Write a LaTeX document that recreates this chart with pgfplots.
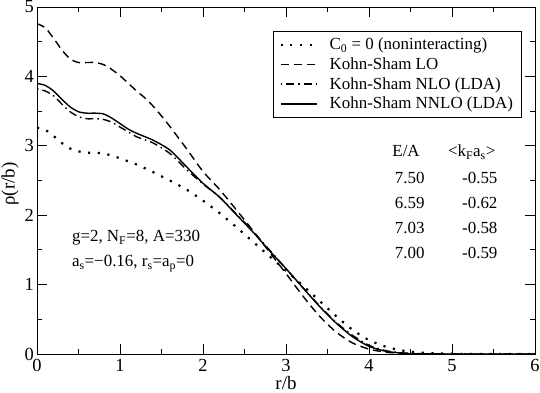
\documentclass[border=0pt]{standalone}
\usepackage{fontspec}
\setmainfont{Liberation Serif}
\usepackage{pgfplots}
\pgfplotsset{compat=1.18}
\newcommand{\fs}{\fontsize{17}{17}\selectfont}
\newcommand{\ft}{\fontsize{18.5}{18.5}\selectfont}
\newcommand{\fl}{\fontsize{19}{19}\selectfont}
\begin{document}
\begin{tikzpicture}
\begin{axis}[
  at={(0,0)}, anchor=south west,
  scale only axis, width=498bp, height=347bp,
  xmin=0, xmax=6, ymin=0, ymax=5,
  xtick={0,1,2,3,4,5,6}, ytick={0,1,2,3,4,5},
  minor x tick num=1, minor y tick num=1,
  tick align=inside, major tick length=10bp, minor tick length=5bp,
  tick style={black, line width=0.8bp},
  axis line style={line width=0.8bp},
  /pgf/number format/assume math mode=true,
  ticklabel style={font=\ft},
  yticklabel style={inner sep=1bp, xshift=-2bp},
  xticklabel style={inner sep=1bp, yshift=-4bp},
  xlabel={r/b}, ylabel={ρ(r/b)},
  label style={font=\fl, inner sep=0pt},
  xlabel style={at={(axis description cs:0.5,-0.101)}, anchor=base},
  ylabel style={at={(axis description cs:-0.045,0.49)}, anchor=base},
  legend style={at={(rel axis cs:0.474,0.932)}, anchor=north west, draw=black, line width=0.8bp,
    font=\fs, inner xsep=6bp, inner ysep=5bp, row sep=2.5bp, cells={anchor=west}},
  legend cell align=left,
  legend image code/.code={\draw[#1] (-1bp,0bp) -- (35bp,0bp); \path (0bp,0bp) (45bp,0bp);},
]
% C0 = 0 (noninteracting)
\addplot[black, line width=2.2bp, dash pattern=on 2.2bp off 7.5bp, smooth, tension=0.4] coordinates {
(0,3.26)(0.1,3.23)(0.2,3.14)(0.3,3.04)(0.4,2.96)(0.5,2.92)(0.6,2.90)(0.7,2.90)(0.8,2.89)(0.9,2.86)(1.0,2.82)
(1.2,2.73)(1.4,2.62)(1.6,2.50)(1.8,2.37)(2.0,2.21)(2.2,2.03)(2.4,1.83)(2.6,1.62)(2.8,1.41)(3.0,1.20)
(3.2,0.99)(3.4,0.77)(3.6,0.55)(3.8,0.35)(4.0,0.20)(4.2,0.105)(4.4,0.05)(4.6,0.022)(4.8,0.009)(5.0,0.003)(5.3,0.0005)(5.6,0)(6,0)};
\addlegendentry{C\textsubscript{0} = 0 (noninteracting)}
% LO
\addplot[black, line width=1.4bp, dash pattern=on 8bp off 5bp, smooth, tension=0.4] coordinates {
(0,4.76)(0.1,4.70)(0.2,4.55)(0.3,4.38)(0.4,4.25)(0.5,4.20)(0.6,4.20)(0.7,4.20)(0.8,4.17)(0.9,4.10)(1.0,4.01)
(1.1,3.90)(1.2,3.79)(1.3,3.69)(1.4,3.57)(1.5,3.43)(1.6,3.28)(1.8,2.96)(2.0,2.63)(2.2,2.37)(2.4,2.08)
(2.6,1.78)(2.8,1.47)(3.0,1.16)(3.2,0.84)(3.4,0.55)(3.6,0.32)(3.8,0.16)(4.0,0.07)(4.2,0.026)(4.4,0.009)(4.6,0.003)(4.9,0.0005)(5.2,0)(6,0)};
\addlegendentry{Kohn-Sham LO}
% NLO
\addplot[black, line width=1.4bp, dash pattern=on 1.5bp off 4bp on 8bp off 4bp, smooth, tension=0.4] coordinates {
(0,3.82)(0.1,3.79)(0.2,3.72)(0.3,3.60)(0.4,3.49)(0.5,3.42)(0.6,3.39)(0.7,3.39)(0.8,3.38)(0.9,3.34)(1.0,3.27)
(1.1,3.20)(1.2,3.13)(1.4,3.04)(1.6,2.89)(1.8,2.66)(2.0,2.45)(2.2,2.26)(2.4,2.02)(2.6,1.77)(2.8,1.50)
(3.0,1.23)(3.2,0.96)(3.4,0.70)(3.6,0.46)(3.8,0.27)(4.0,0.125)(4.2,0.048)(4.4,0.016)(4.6,0.005)(4.9,0.001)(5.2,0)(6,0)};
\addlegendentry{Kohn-Sham NLO (LDA)}
% NNLO
\addplot[black, line width=1.4bp, smooth, tension=0.4] coordinates {
(0,3.90)(0.1,3.87)(0.2,3.79)(0.3,3.67)(0.4,3.56)(0.5,3.49)(0.6,3.47)(0.7,3.47)(0.8,3.46)(0.9,3.40)(1.0,3.32)
(1.1,3.24)(1.2,3.18)(1.4,3.08)(1.6,2.94)(1.8,2.70)(2.0,2.46)(2.2,2.26)(2.4,2.01)(2.6,1.76)(2.8,1.49)
(3.0,1.23)(3.2,0.96)(3.4,0.69)(3.6,0.45)(3.8,0.25)(4.0,0.11)(4.2,0.04)(4.4,0.012)(4.6,0.003)(4.9,0.0005)(5.2,0)(6,0)};
\addlegendentry{Kohn-Sham NNLO (LDA)}
% annotations
\node[anchor=base west, inner sep=0pt, font=\fs] at (axis cs:4.28,2.843) {E/A};
\node[anchor=base west, inner sep=0pt, font=\fs] at (axis cs:4.95,2.843) {<k\textsubscript{F}a\textsubscript{s}>};
\node[anchor=base west, inner sep=0pt, font=\fs] at (axis cs:4.31,2.46) {7.50};
\node[anchor=base west, inner sep=0pt, font=\fs] at (axis cs:4.31,2.10) {6.59};
\node[anchor=base west, inner sep=0pt, font=\fs] at (axis cs:4.31,1.74) {7.03};
\node[anchor=base west, inner sep=0pt, font=\fs] at (axis cs:4.31,1.383) {7.00};
\node[anchor=base west, inner sep=0pt, font=\fs] at (axis cs:5.12,2.46) {-0.55};
\node[anchor=base west, inner sep=0pt, font=\fs] at (axis cs:5.12,2.10) {-0.62};
\node[anchor=base west, inner sep=0pt, font=\fs] at (axis cs:5.12,1.74) {-0.58};
\node[anchor=base west, inner sep=0pt, font=\fs] at (axis cs:5.12,1.383) {-0.59};
\node[anchor=base west, inner sep=0pt, font=\fs] at (axis cs:0.42,1.618) {g=2, N\textsubscript{F}=8, A=330};
\node[anchor=base west, inner sep=0pt, font=\fs] at (axis cs:0.42,1.258) {a\textsubscript{s}=−0.16, r\textsubscript{s}=a\textsubscript{p}=0};
\end{axis}
\pgfresetboundingbox
\path[use as bounding box] (-37bp,-39bp) rectangle (503bp,354bp);
\end{tikzpicture}
\end{document}
